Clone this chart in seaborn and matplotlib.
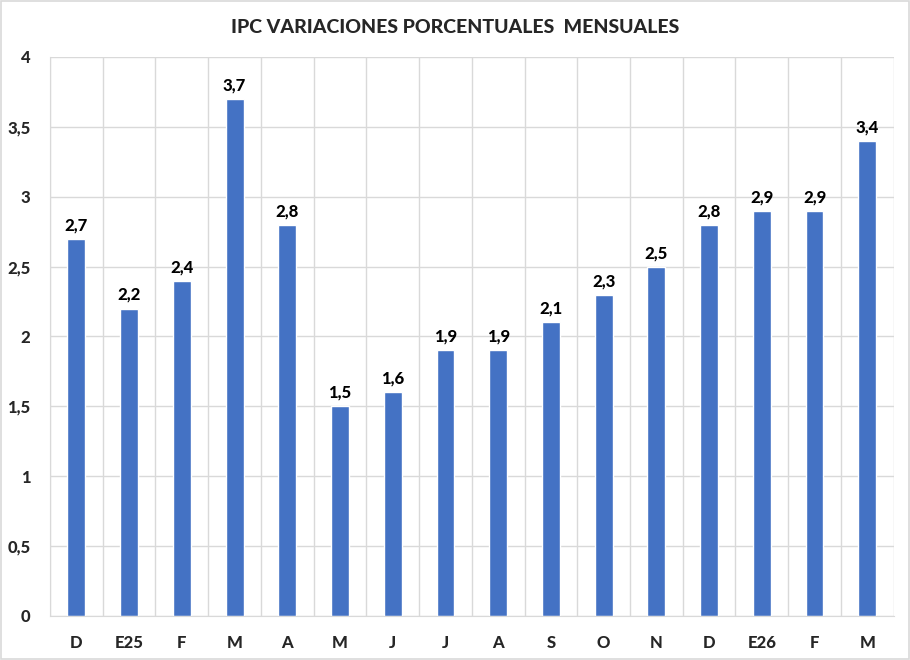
import numpy as np
import pandas as pd
import matplotlib
matplotlib.use("Agg")
import matplotlib.pyplot as plt
import seaborn as sns
from matplotlib.ticker import FuncFormatter, MultipleLocator

# ==== DATOS ====
meses = ["D", "E25", "F", "M", "A", "M", "J", "J", "A", "S", "O", "N", "D", "E26", "F", "M"]
ipc = [2.7, 2.2, 2.4, 3.7, 2.8, 1.5, 1.6, 1.9, 1.9, 2.1, 2.3, 2.5, 2.8, 2.9, 2.9, 3.4]
titulo = "IPC VARIACIONES PORCENTUALES  MENSUALES"

sns.set_style("white")
plt.rcParams["font.family"] = ["Lato", "DejaVu Sans"]
PESO = "black"

df = pd.DataFrame({"pos": np.arange(len(meses)), "valor": ipc})

fig = plt.figure(figsize=(9.1, 6.6), dpi=100)
ax = fig.add_axes([0.055, 0.0667, 0.927, 0.847])

sns.barplot(data=df, x="pos", y="valor", color="#4472C4", width=0.34,
            saturation=1, ax=ax)

def coma(v, pos=None):
    s = f"{v:g}"
    return s.replace(".", ",")

ax.bar_label(ax.containers[0], labels=[f"{v:.1f}".replace(".", ",") for v in ipc],
             padding=4, fontsize=12, fontweight=PESO, color="black")

ax.set_ylim(0, 4)
ax.set_xlim(-0.5, len(meses) - 0.5)
ax.yaxis.set_major_locator(MultipleLocator(0.5))
ax.yaxis.set_major_formatter(FuncFormatter(coma))
ax.set_xticks(np.arange(len(meses)))
ax.set_xticklabels(meses)
ax.set_xticks(np.arange(len(meses) + 1) - 0.5, minor=True)

ax.grid(True, axis="y", which="major", color="#D9D9D9", linewidth=1)
ax.grid(True, axis="x", which="minor", color="#D9D9D9", linewidth=1)
ax.grid(False, axis="x", which="major")
ax.set_axisbelow(True)

for side, spine in ax.spines.items():
    spine.set_visible(side in ("left", "bottom"))
    spine.set_color("#D9D9D9")

ax.tick_params(axis="both", which="both", length=0, labelsize=12)
ax.tick_params(axis="x", pad=14)
ax.tick_params(axis="y", pad=14)
for lab in ax.get_xticklabels() + ax.get_yticklabels():
    lab.set_fontweight(PESO)
ax.set_xlabel("")
ax.set_ylabel("")

fig.text(0.5, 0.958, titulo, ha="center", va="center", fontsize=14, fontweight=PESO)

# borde exterior
fig.patches.append(plt.Rectangle((0.001, 0.001), 0.998, 0.998, transform=fig.transFigure,
                                 fill=False, edgecolor="#D9D9D9", linewidth=1.2))

fig.savefig("out.png", dpi=100, facecolor="white")
